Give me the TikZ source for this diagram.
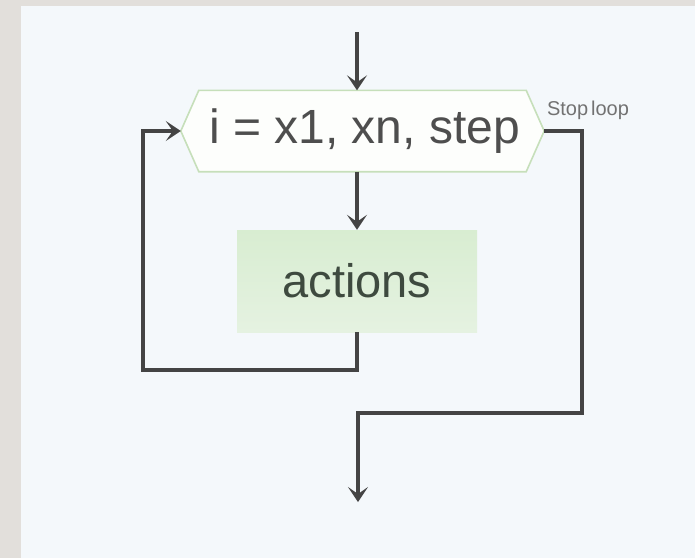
\documentclass[tikz,border=0pt]{standalone}
\usepackage{fontspec}
\setmainfont{Liberation Sans}
\usetikzlibrary{arrows.meta}
\definecolor{frame}{HTML}{E2DFDB}
\definecolor{panel}{HTML}{F4F8FB}
\definecolor{wire}{HTML}{444444}
\definecolor{hexline}{HTML}{C6DFBA}
\definecolor{hexfill}{HTML}{FDFEFC}
\definecolor{acttop}{HTML}{D8EDD1}
\definecolor{actbot}{HTML}{E5F2E1}
\definecolor{txt}{HTML}{4E4E4E}
\definecolor{acttxt}{HTML}{3E4A3F}
\definecolor{small}{HTML}{727272}
\tikzset{
  wirearrow/.style={draw=wire, line width=3.6pt, line join=miter,
    -{Stealth[length=15pt,width=20pt,inset=7pt]}},
  loophead/.style={minimum width=363pt, minimum height=81pt, inner sep=0pt,
    text=txt, font=\fontsize{48}{56}\selectfont},
  actbox/.style={minimum width=240pt, minimum height=102pt, inner sep=0pt,
    top color=acttop, bottom color=actbot, draw=none,
    text=acttxt, font=\fontsize{47}{56}\selectfont},
  smalllabel/.style={text=small, font=\fontsize{20}{23}\selectfont, inner sep=0pt}
}
\begin{document}
\begin{tikzpicture}[x=1pt, y=-1pt]
  % page frame and inner panel
  \fill[frame] (0,0) rectangle (695,558);
  \fill[panel] (21,6) rectangle (695,558);
  \useasboundingbox (0,0) rectangle (695,558);

  % loop header (hexagon) and body
  \node[loophead] (hex) at (362.5,131) {};
  \fill[hexfill, draw=hexline, line width=1.6pt]
    (hex.west) -- ([xshift=18pt]hex.north west) -- ([xshift=-18pt]hex.north east)
    -- (hex.east) -- ([xshift=-18pt]hex.south east) -- ([xshift=18pt]hex.south west)
    -- cycle;
  \node[loophead] at ([xshift=2pt]hex.center) {i = x1, xn, step};
  \node[actbox] (act) at (357,281) {actions};
  \node[smalllabel] (stoplbl) at (588,110) {Stop\hspace{3pt}loop};

  % free ends of the connectors
  \coordinate (entry) at (357,32);
  \coordinate (back) at (143,370);
  \coordinate (stopturn) at (582,413);
  \coordinate (exit) at (358,502);

  % connectors
  \draw[wirearrow] (entry) -- (entry |- hex.north);
  \draw[wirearrow] (act.north |- hex.south) -- (act.north);
  \draw[wirearrow] (act.south) |- (back) |- (hex.west);
  \draw[wirearrow] (hex.east) -| (stopturn) -| (exit);
\end{tikzpicture}
\end{document}
